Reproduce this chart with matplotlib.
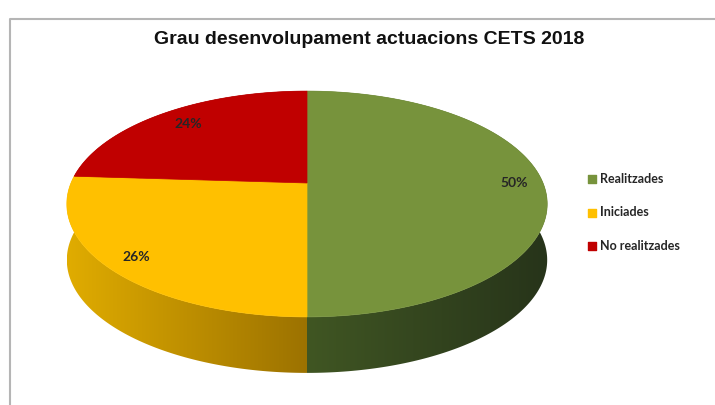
import numpy as np
import matplotlib
matplotlib.use("Agg")
import matplotlib.pyplot as plt
from matplotlib.patches import Polygon
from matplotlib.colors import LinearSegmentedColormap

# data
labels = ["Realitzades", "Iniciades", "No realitzades"]
values = [50, 26, 24]
top_colors = ["#77933C", "#FFC000", "#C00000"]
side_colors = [("#405623", "#27341A"), ("#E0AC00", "#9C7200"), ("#8A0000", "#5A0000")]
title = "Grau desenvolupament actuacions CETS 2018"

# geometry of the 3D pie, in pixels
cx, cy = 307, 183
a, k, p = 236, 109, 0.186
depth = 56


def project(x, y):
    s = 1.0 / (1.0 + p * y)
    return cx + a * x * s, cy - k * y * s


fig = plt.figure(figsize=(7.15, 4.05), dpi=100)
ax = fig.add_axes([0, 0, 1, 1])
ax.set_xlim(0, 715)
ax.set_ylim(405, 0)
ax.axis("off")

# chart frame
ax.plot([10, 10, 715], [405, 19, 19], color="#B5B5B5", lw=1.5, zorder=1)

ax.text(369, 40, title, ha="center", va="center", fontsize=14,
        fontweight="bold", family="Liberation Sans", color="#111111")

fracs = np.array(values) / sum(values)
bounds = 90 - np.concatenate([[0], np.cumsum(fracs)]) * 360

# side bands (drawn first, top face covers the back part)
for i in range(len(values)):
    t = np.radians(np.linspace(bounds[i], bounds[i + 1], 200))
    X, Y = project(np.cos(t), np.sin(t))
    verts = np.column_stack([np.concatenate([X, X[::-1]]),
                             np.concatenate([Y, Y[::-1] + depth])])
    poly = Polygon(verts, closed=True, facecolor="none", edgecolor="none")
    ax.add_patch(poly)
    cmap = LinearSegmentedColormap.from_list("side%d" % i, side_colors[i])
    grad = np.linspace(0, 1, 256).reshape(1, -1)
    im = ax.imshow(grad, cmap=cmap, aspect="auto",
                   extent=[X.min(), X.max(), Y.max() + depth, Y.min()], zorder=2)
    im.set_clip_path(poly)

# top face
for i in range(len(values)):
    t = np.radians(np.linspace(bounds[i], bounds[i + 1], 200))
    X, Y = project(np.cos(t), np.sin(t))
    verts = np.column_stack([np.concatenate([[cx], X]), np.concatenate([[cy], Y])])
    ax.add_patch(Polygon(verts, closed=True, facecolor=top_colors[i],
                         edgecolor=top_colors[i], lw=0.5, zorder=3))

# data labels
label_r = [0.88, 0.88, 0.82]
for i, v in enumerate(values):
    mid = np.radians((bounds[i] + bounds[i + 1]) / 2)
    lx, ly = project(label_r[i] * np.cos(mid), label_r[i] * np.sin(mid))
    ax.text(lx, ly, "%d%%" % v, ha="center", va="center", fontsize=10,
            fontweight="bold", family="Lato", color="#262626", zorder=4)

# legend
for i, lab in enumerate(labels):
    ly = 179 + i * 33.5
    ax.scatter([592], [ly], marker="s", s=36, color=top_colors[i], zorder=4)
    ax.text(600, ly, lab, ha="left", va="center", fontsize=9,
            family="Lato", fontweight="bold", color="#262626")

fig.savefig("out.png", dpi=100)
